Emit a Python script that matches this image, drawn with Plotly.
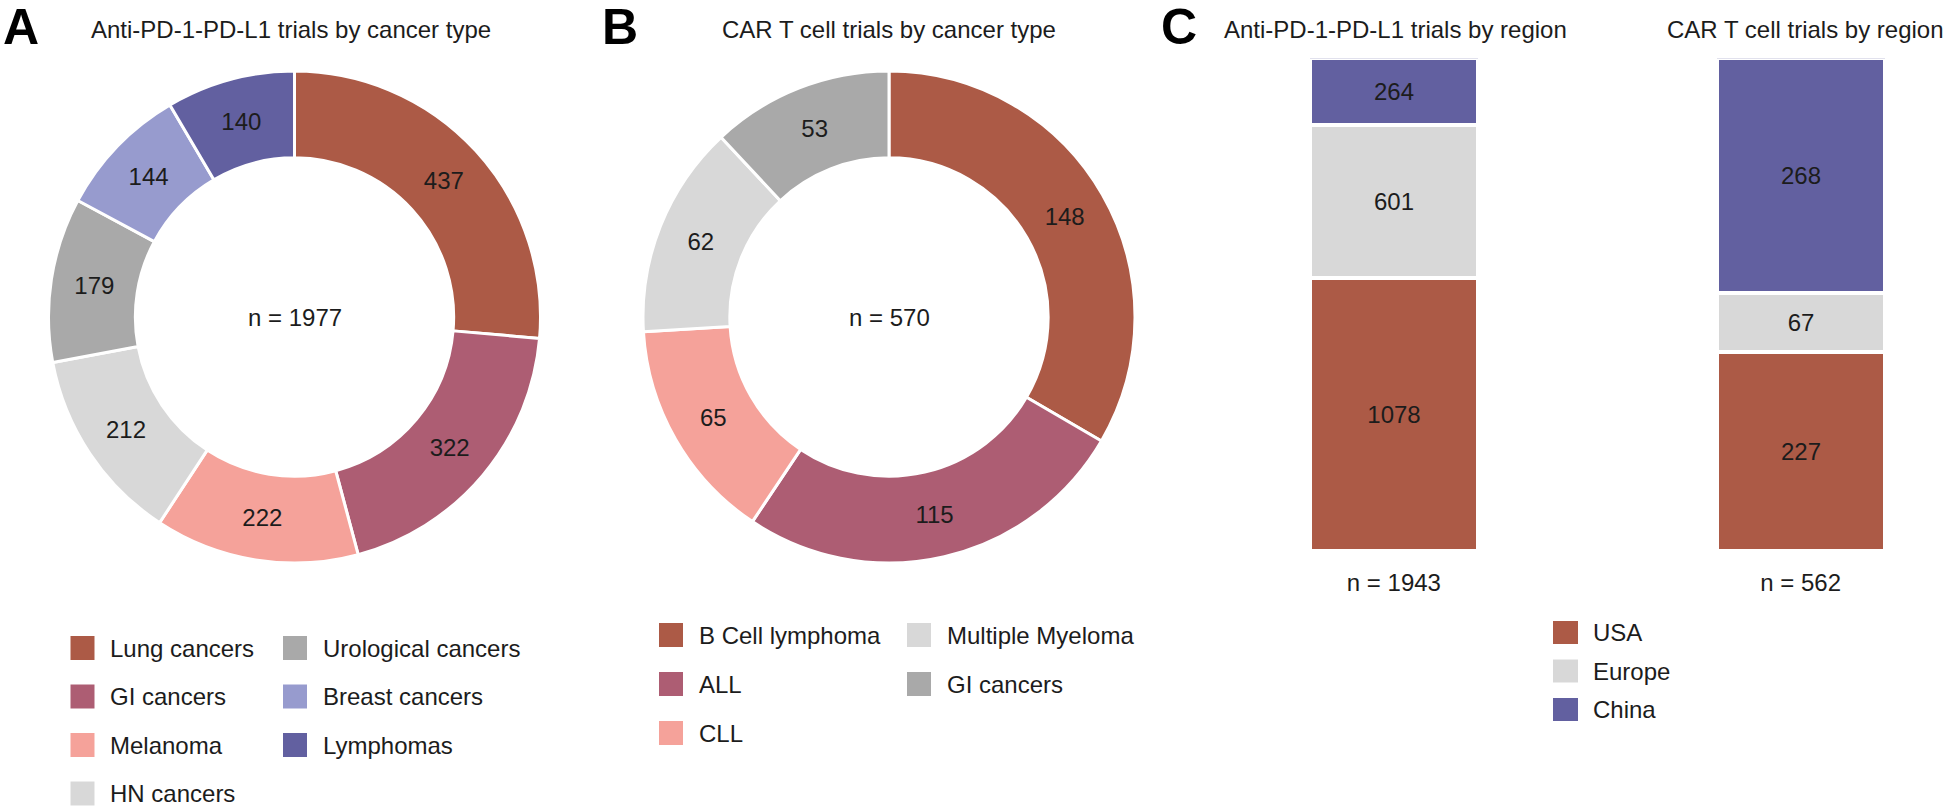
import plotly.graph_objects as go

# ---------------- data ----------------
pd1_types = ["Lung cancers", "GI cancers", "Melanoma", "HN cancers",
             "Urological cancers", "Breast cancers", "Lymphomas"]
pd1_counts = [437, 322, 222, 212, 179, 144, 140]
pd1_total_label = "n = 1977"

cart_types = ["B Cell lymphoma", "ALL", "CLL", "Multiple Myeloma", "GI cancers"]
cart_counts = [148, 115, 65, 62, 53]
cart_total_label = "n = 570"

regions = ["USA", "Europe", "China"]
region_pd1 = [1078, 601, 264]
region_cart = [227, 67, 268]
region_groups = ["Anti-PD-1-PD-L1", "CAR T cell"]

# ---------------- styles ----------------
W, H = 1946, 809
FONT = "Liberation Sans, Arial, Helvetica, sans-serif"
TXT = "#1c1c1c"
C_RED = "#AC5A46"
C_MAUVE = "#AD5D73"
C_SALMON = "#F5A29A"
C_LGRAY = "#D8D8D8"
C_GRAY = "#A9A9A9"
C_LAV = "#979BCE"
C_PURPLE = "#6260A0"

pd1_colors = [C_RED, C_MAUVE, C_SALMON, C_LGRAY, C_GRAY, C_LAV, C_PURPLE]
cart_colors = [C_RED, C_MAUVE, C_SALMON, C_LGRAY, C_GRAY]
region_colors = [C_RED, C_LGRAY, C_PURPLE]


def fx(x):
    return x / W


def fy(y):
    return 1 - y / H


def pie_domain(cx, cy, r):
    return dict(x=[fx(cx - r), fx(cx + r)], y=[fy(cy + r), fy(cy - r)])


PIE_R = 246
PIE_A = (294.5, 317)
PIE_B = (889, 317)
HOLE = 0.647

fig = go.Figure()

for labels, vals, cols, (cx, cy) in [
    (pd1_types, pd1_counts, pd1_colors, PIE_A),
    (cart_types, cart_counts, cart_colors, PIE_B),
]:
    fig.add_trace(go.Pie(
        labels=labels, values=vals, sort=False, direction="clockwise",
        hole=HOLE, domain=pie_domain(cx, cy, PIE_R),
        marker=dict(colors=cols, line=dict(color="white", width=3)),
        textinfo="value", textposition="inside",
        insidetextorientation="horizontal",
        textfont=dict(family=FONT, size=24, color=TXT),
        showlegend=False, hoverinfo="label+value",
    ))

# stacked percentage bars
for i, reg in enumerate(regions):
    vals = [region_pd1[i], region_cart[i]]
    fig.add_trace(go.Bar(
        x=region_groups, y=vals, name=reg, width=0.413,
        marker=dict(color=region_colors[i], line=dict(color="white", width=4)),
        text=[str(v) for v in vals], textposition="inside",
        insidetextanchor="middle", textangle=0,
        textfont=dict(family=FONT, size=24, color=TXT),
        showlegend=False,
    ))

n_labels = ["n = %d" % sum(region_pd1), "n = %d" % sum(region_cart)]

ann = []
# panel letters
for letter, x in [("A", 1), ("B", 600), ("C", 1159)]:
    ann.append(dict(text=letter, x=fx(x), y=fy(27), xref="paper", yref="paper",
                    xanchor="left", yanchor="middle", showarrow=False,
                    font=dict(family=FONT, size=50, color="black", weight="bold")))
# titles
for t, x in [("Anti-PD-1-PD-L1 trials by cancer type", 291),
             ("CAR T cell trials by cancer type", 888.5),
             ("Anti-PD-1-PD-L1 trials by region", 1395.5),
             ("CAR T cell trials by region", 1805)]:
    ann.append(dict(text=t, x=fx(x), y=fy(29.5), xref="paper", yref="paper",
                    xanchor="center", yanchor="middle", showarrow=False,
                    font=dict(family=FONT, size=24, color=TXT)))
# donut centers
for t, (cx, cy) in [(pd1_total_label, PIE_A), (cart_total_label, PIE_B)]:
    ann.append(dict(text=t, x=fx(cx), y=fy(cy), xref="paper", yref="paper",
                    xanchor="center", yanchor="middle", showarrow=False,
                    font=dict(family=FONT, size=24, color=TXT)))

shapes = []


def add_legend(labels, colors, cols_start, col_sizes, y0, dy, sw, sh, txt_off):
    k = 0
    for ci, ncol in enumerate(col_sizes):
        x0 = cols_start[ci]
        for r in range(ncol):
            yc = y0 + r * dy
            shapes.append(dict(type="rect", xref="paper", yref="paper",
                               x0=fx(x0), x1=fx(x0 + sw), y0=fy(yc + sh / 2), y1=fy(yc - sh / 2),
                               fillcolor=colors[k], line=dict(width=0)))
            ann.append(dict(text=labels[k], x=fx(x0 + txt_off), y=fy(yc), xref="paper", yref="paper",
                            xanchor="left", yanchor="middle", showarrow=False,
                            font=dict(family=FONT, size=24, color=TXT)))
            k += 1


add_legend(pd1_types, pd1_colors, [70.5, 283], [4, 3], 648, 48.5, 24, 24, 37.5)
add_legend(cart_types, cart_colors, [659, 907], [3, 2], 635, 49, 24, 24, 37.5)
add_legend(regions, region_colors, [1553], [3], 632.5, 38.5, 25, 23, 38)

BAR_SCALE = 406.8
XD0 = 1150
r0 = -(1393.9 - XD0) / BAR_SCALE
r1 = r0 + (W - XD0) / BAR_SCALE

fig.update_layout(
    width=W, height=H, margin=dict(l=0, r=0, t=0, b=0),
    paper_bgcolor="white", plot_bgcolor="white",
    barmode="stack", barnorm="percent", bargap=0,
    font=dict(family=FONT, size=24, color=TXT),
    xaxis=dict(domain=[fx(XD0), 1], range=[r0, r1], showgrid=False, zeroline=False,
               showline=False, ticks="", tickvals=region_groups, ticktext=n_labels,
               tickfont=dict(family=FONT, size=24, color=TXT), ticklabelstandoff=14,
               fixedrange=True),
    yaxis=dict(domain=[fy(551.5), fy(58.3)], range=[0, 100], visible=False, fixedrange=True),
    annotations=ann, shapes=shapes, showlegend=False,
)

fig.write_html("out.html", config={"displayModeBar": False},
               post_script="document.body.style.margin='0';document.body.style.overflow='hidden';")
